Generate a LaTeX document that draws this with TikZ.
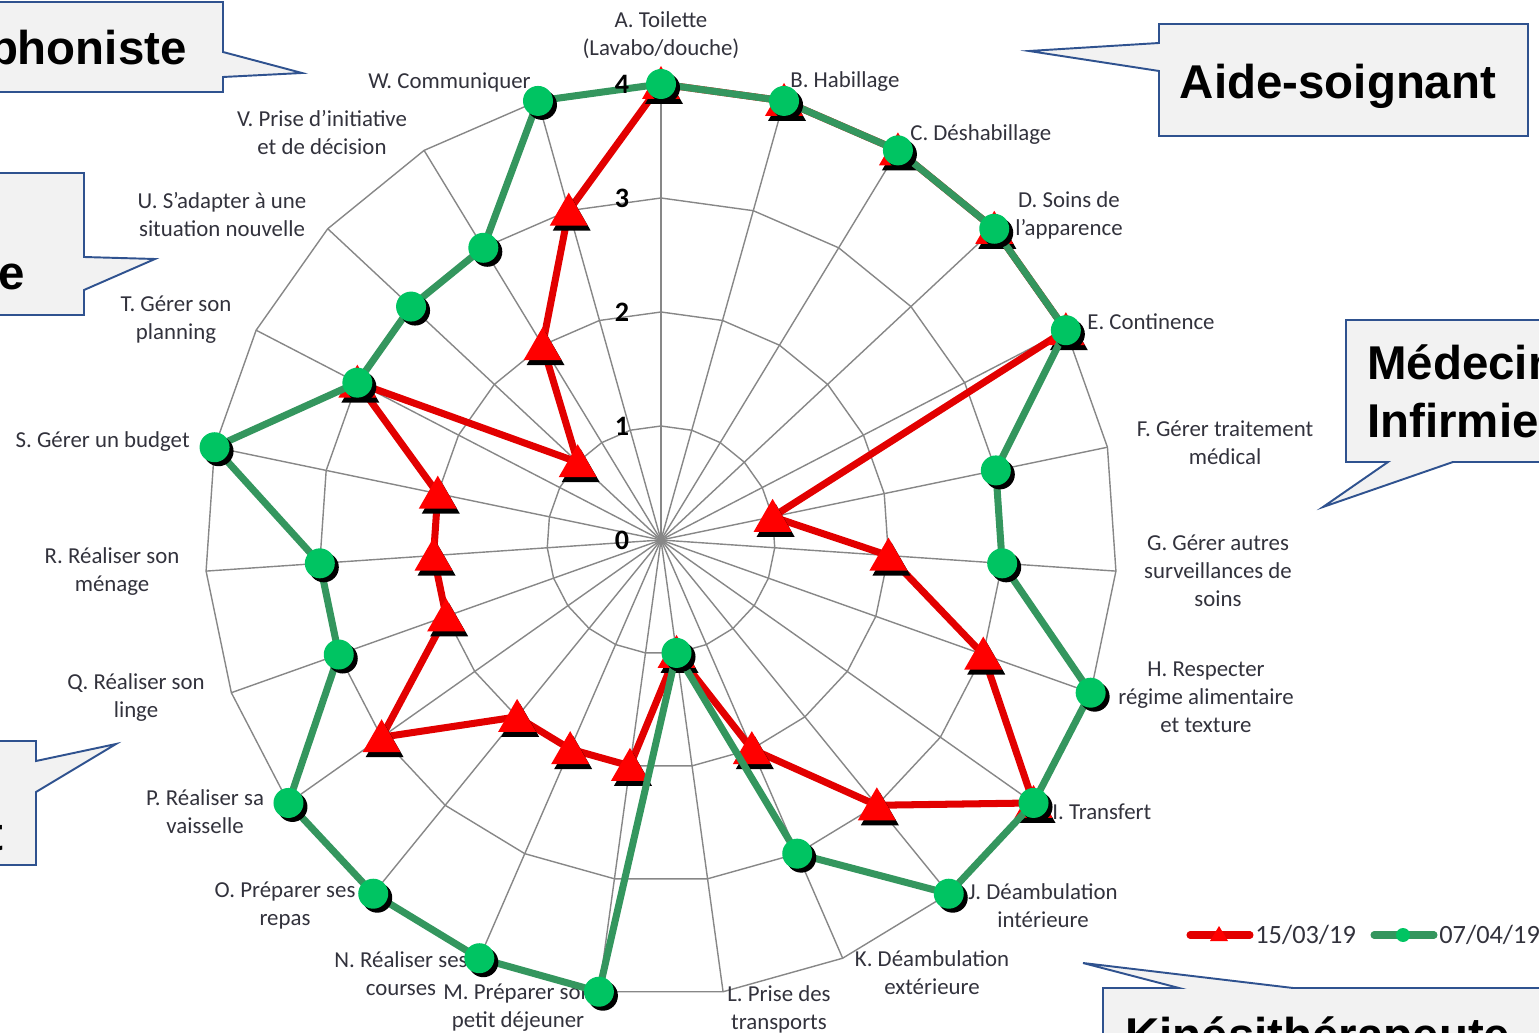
\documentclass[tikz,border=0pt]{standalone}
\usepackage{fontspec}
\setmainfont{Carlito}
\newfontfamily\calloutfont{Liberation Sans}
\usepackage{xcolor}
\usepackage{tikz}
\usetikzlibrary{calc}

\definecolor{gridgray}{RGB}{135,135,135}
\definecolor{serred}{RGB}{226,0,0}
\definecolor{markred}{RGB}{255,0,0}
\definecolor{sergreen}{RGB}{52,150,94}
\definecolor{markgreen}{RGB}{0,196,98}
\definecolor{callfill}{RGB}{242,242,242}
\definecolor{callblue}{RGB}{47,82,143}
\definecolor{labtext}{RGB}{50,50,60}

\begin{document}
\begin{tikzpicture}[x=0.02cm,y=-0.02cm,
	grid/.style={draw=gridgray,line width=0.8pt},
	lab/.style={font=\fontsize{13}{15.9}\selectfont,text=labtext,align=center,inner sep=0pt},
	tick/.style={font=\fontsize{16}{18}\selectfont\bfseries,inner sep=0pt},
	redline/.style={draw=serred,line width=4pt,line join=round},
	greenline/.style={draw=sergreen,line width=4pt,line join=round},
	callout/.style={fill=callfill,draw=callblue,line width=1.1pt},
	calltext/.style={font=\calloutfont\bfseries\fontsize{27}{33}\selectfont,inner sep=0pt},
	legtext/.style={font=\fontsize{15}{18}\selectfont,text=labtext,inner sep=0pt,anchor=west}]
	\useasboundingbox (0,0) rectangle (1539,1033);
	\clip (0,0) rectangle (1539,1033);

	% web
	\coordinate (c) at (661,540);
	\foreach \k in {1,...,4}
		\draw[grid] ($(c)+(-90:\k*114)$) \foreach \i in {1,...,22}{ -- ($(c)+(\i*360/23-90:\k*114)$)} -- cycle;
	\foreach \i in {0,...,22}
		\draw[grid] (c) -- ($(c)+(\i*360/23-90:456)$) coordinate (o\i);

	% axis labels
	\node[lab] (labA) at (661,35) {A. Toilette\\(Lavabo/douche)};
	\node[lab,anchor=west] (labB) at (790,82) {B. Habillage};
	\node[lab,anchor=west] (labC) at (910,135) {C. Déshabillage};
	\node[lab] (labD) at (1069,215) {D. Soins de\\l'apparence};
	\node[lab,anchor=west] (labE) at (1087,322) {E. Continence};
	\node[lab] (labF) at (1225,443) {F. Gérer traitement\\médical};
	\node[lab] (labG) at (1218,571) {G. Gérer autres\\surveillances de\\soins};
	\node[lab] (labH) at (1206,697) {H. Respecter\\régime alimentaire\\et texture};
	\node[lab,anchor=west] (labI) at (1052,812) {I. Transfert};
	\node[lab] (labJ) at (1043,906) {J. Déambulation\\intérieure};
	\node[lab] (labK) at (932,973) {K. Déambulation\\extérieure};
	\node[lab] (labL) at (779,1009) {L. Prise des\\transports};
	\node[lab] (labM) at (518,1008) {M. Préparer son\\petit déjeuner};
	\node[lab] (labN) at (401,974) {N. Réaliser ses\\courses};
	\node[lab] (labO) at (285,906) {O. Préparer ses\\repas};
	\node[lab] (labP) at (205,812) {P. Réaliser sa\\vaisselle};
	\node[lab] (labQ) at (136,698) {Q. Réaliser son\\linge};
	\node[lab] (labR) at (112,572) {R. Réaliser son\\ménage};
	\node[lab,anchor=east] (labS) at (190,442) {S. Gérer un budget};
	\node[lab] (labT) at (176,320) {T. Gérer son\\planning};
	\node[lab] (labU) at (222,215) {U. S'adapter à une\\situation nouvelle};
	\node[lab] (labV) at (322,133) {V. Prise d'initiative\\et de décision};
	\node[lab,anchor=east] (labW) at (531,82) {W. Communiquer};

	% 15/03/19
	\foreach \v [count=\i from 0] in {4,4,4,4,4,1,2,3,4,3,2,1,2,2,2,3,2,2,2,3,1,2,3}
		\coordinate (r\i) at ($(c)+(\i*360/23-90:\v*114)$);
	\draw[redline] (r0) \foreach \i in {1,...,22}{ -- (r\i)} -- cycle;
	\foreach \i in {0,...,22}{
		\fill[black] ($(r\i)+(3,5)$) +(0,-18) -- +(19,15) -- +(-19,15) -- cycle;
		\fill[markred] (r\i) +(0,-18) -- +(19,15) -- +(-19,15) -- cycle;
	}

	% 07/04/19
	\foreach \v [count=\i from 0] in {4,4,4,4,4,3,3,4,4,4,3,1,4,4,4,4,3,3,4,3,3,3,4}
		\coordinate (g\i) at ($(c)+(\i*360/23-90:\v*114)$);
	\draw[greenline] (g0) \foreach \i in {1,...,22}{ -- (g\i)} -- cycle;
	\foreach \i in {0,...,22}{
		\fill[black] ($(g\i)+(4,4)$) circle (0.3cm);
		\fill[markgreen] (g\i) circle (0.3cm);
	}

	% scale
	\foreach \k in {0,...,4}
		\node[tick] (v\k) at (622,{540-\k*114}) {\k};

	% legend
	\draw[redline,line cap=round] (1190,935) coordinate (lr1) -- (1250,935) coordinate (lr2);
	\fill[markred] (1219,935) +(0,-9) -- +(9,6) -- +(-9,6) -- cycle;
	\node[legtext] (leg1) at (1255,935) {15/03/19};
	\draw[greenline,line cap=round] (1374,935) coordinate (lg1) -- (1434,935) coordinate (lg2);
	\fill[markgreen] (1403,935) circle (0.14cm);
	\node[legtext] (leg2) at (1439,935) {07/04/19};

	% callouts
	\draw[callout] (-10,2) -- (223,2) -- (223,52) -- (302,73) -- (223,77) -- (223,92) -- (-10,92) -- cycle;
	\node[calltext,anchor=base east] (ortho) at (187,65) {Orthophoniste};
	\draw[callout] (-10,173) -- (84,173) -- (84,257) -- (155,259) -- (84,290) -- (84,315) -- (-10,315) -- cycle;
	\node[calltext,anchor=base east] (ergo) at (25,290) {Ergothérapeute};
	\draw[callout] (-10,741) -- (36,741) -- (36,761) -- (116,744) -- (36,792) -- (36,865) -- (-10,865) -- cycle;
	\node[calltext,anchor=base east] (educ) at (4,850) {Éducateur sport};
	\draw[callout] (1159,24) -- (1528,24) -- (1528,136) -- (1159,136) -- (1159,71) -- (1029,51) -- (1159,43) -- cycle;
	\node[calltext,anchor=base] (aide) at (1338,99) {Aide-soignant};
	\draw[callout] (1346,320) -- (1560,320) -- (1560,462) -- (1453,462) -- (1323,507) -- (1388,462) -- (1346,462) -- cycle;
	\node[calltext,anchor=base west] (med) at (1367,380) {Médecin};
	\node[calltext,anchor=base west] (inf) at (1367,438) {Infirmier};
	\draw[callout] (1103,988) -- (1179,988) -- (1083,963) -- (1293,988) -- (1560,988) -- (1560,1060) -- (1103,1060) -- cycle;
	\node[calltext,anchor=base west] (kine) at (1125,1051) {Kinésithérapeute};
\end{tikzpicture}
\end{document}
